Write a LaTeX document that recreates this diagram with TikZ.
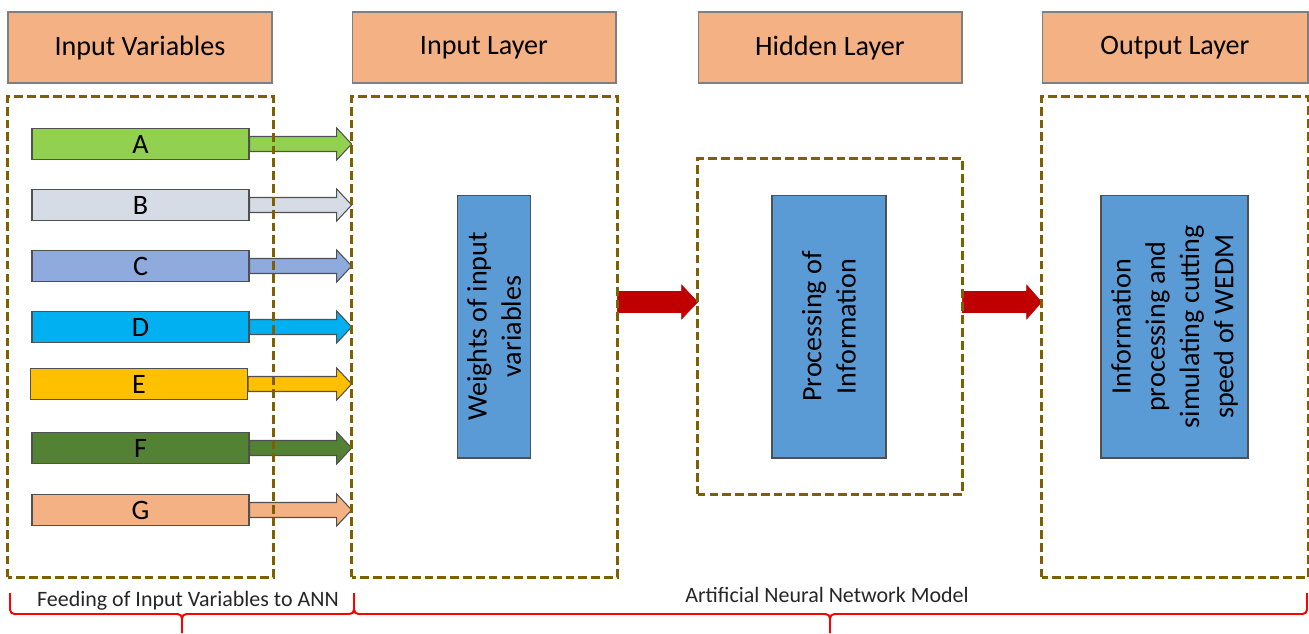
\documentclass[tikz,border=0pt]{standalone}
\usepackage{fontspec}
\setmainfont{Carlito}
\usetikzlibrary{calc}

\definecolor{hdrorange}{HTML}{F4B183}
\definecolor{hdrline}{HTML}{7F7F7F}
\definecolor{dashbrown}{HTML}{7F6000}
\definecolor{barline}{HTML}{505050}
\definecolor{procblue}{HTML}{5B9BD5}
\definecolor{arrowred}{HTML}{C00000}
\definecolor{varA}{HTML}{92D050}
\definecolor{varB}{HTML}{D6DCE5}
\definecolor{varC}{HTML}{8FAADC}
\definecolor{varD}{HTML}{00B0F0}
\definecolor{varE}{HTML}{FFC000}
\definecolor{varF}{HTML}{548235}
\definecolor{varG}{HTML}{F4B183}

%block arrow: style, from, to, half shaft, half head, head length
\newcommand{\blockarrow}[6]{%
  \draw[#1] ($(#2)+(0,-#4)$) -- ($(#3)+(-#6,-#4)$) -- ($(#3)+(-#6,-#5)$) -- (#3)
    -- ($(#3)+(-#6,#5)$) -- ($(#3)+(-#6,#4)$) -- ($(#2)+(0,#4)$) -- cycle;}

\begin{document}
\begin{tikzpicture}[x=0.02cm,y=-0.02cm,
  hdr/.style={draw=hdrline,fill=hdrorange,line width=0.6pt,minimum width=5.28cm,minimum height=1.42cm,inner sep=0pt,font=\fontsize{16}{19.5}\selectfont},
  layerbox/.style={inner sep=0pt,minimum width=5.3cm,minimum height=9.6cm},
  dashline/.style={draw=dashbrown,line width=1.4pt,dash pattern=on 5pt off 2.3pt},
  varbar/.style={draw=barline,line width=0.6pt,minimum width=4.34cm,minimum height=0.62cm,inner sep=0pt,font=\fontsize{16}{19.5}\selectfont},
  procbox/.style={draw=barline,fill=procblue,line width=0.6pt,rotate=90,minimum width=5.26cm,inner sep=0pt,align=center,font=\fontsize{16}{19.5}\selectfont},
  feed/.style={draw=barline,line width=0.6pt},
  redfeed/.style={fill=arrowred,draw=arrowred,line width=0.3pt},
  bracel/.style={draw=red,line width=1.1pt,rounded corners=2.5pt},
  bracetext/.style={inner sep=0pt,text=black!85,font=\fontsize{12.5}{15}\selectfont}]
  \useasboundingbox (0,0) rectangle (1309,633);

  %headers
  \node[hdr] (hvar) at (140,47.5) {Input Variables};
  \node[hdr] (hin) at (484,47.5) {Input Layer};
  \node[hdr] (hhid) at (830,47.5) {Hidden Layer};
  \node[hdr,minimum width=5.32cm] (hout) at (1175,47.5) {Output Layer};

  %layer boxes (dashed frames drawn at the end)
  \node[layerbox] (d1) at (140.5,337) {};
  \node[layerbox] (d2) at (484.5,337) {};
  \node[layerbox,minimum width=5.28cm,minimum height=6.7cm] (d3) at (830,326.5) {};
  \node[layerbox,minimum width=5.32cm] (d4) at (1175,337) {};

  %input variables
  \node[varbar,fill=varA] (a) at (140.5,144) {A};
  \node[varbar,fill=varB] (b) at (140.5,205) {B};
  \node[varbar,fill=varC] (c) at (140.5,266) {C};
  \node[varbar,fill=varD] (d) at (140.5,327) {D};
  \node[varbar,fill=varE] (e) at (139,384) {E};
  \node[varbar,fill=varF] (f) at (140.5,448) {F};
  \node[varbar,fill=varG] (g) at (140.5,510) {G};
  \foreach \v/\col in {a/varA,b/varB,c/varC,d/varD,e/varE,f/varF,g/varG}
    \blockarrow{feed,fill=\col}{\v.east}{d2.west |- \v.east}{7.5}{16}{15};

  %processing boxes
  \node[procbox,minimum height=1.46cm] (w) at (494,326.5) {Weights of input\\variables};
  \node[procbox,minimum height=2.28cm] (p) at (829,326.5) {Processing of\\Information};
  \node[procbox,minimum height=2.94cm] (o) at (1174.5,326.5) {Information\\processing and\\simulating cutting\\speed of WEDM};

  \coordinate (ry) at (0,302);
  \blockarrow{redfeed}{d2.east |- ry}{d3.west |- ry}{10.5}{17}{16};
  \blockarrow{redfeed}{d3.east |- ry}{d4.west |- ry}{10.5}{17}{15};

  \foreach \b in {d1,d2,d3,d4}
    \draw[dashline] (\b.south west) rectangle (\b.north east);

  %braces
  \node[bracetext] (lfeed) at (188,601) {Feeding of Input Variables to ANN};
  \node[bracetext] (lann) at (827,595) {Artificial Neural Network Model};
  \draw[bracel] (10,593) |- (182,614) -- (182,633);
  \draw[bracel] (182,633) -- (182,614) -| (354,593);
  \draw[bracel] (354,593) |- (830,614) -- (830,633);
  \draw[bracel] (830,633) -- (830,614) -| (1307,593);
\end{tikzpicture}
\end{document}
